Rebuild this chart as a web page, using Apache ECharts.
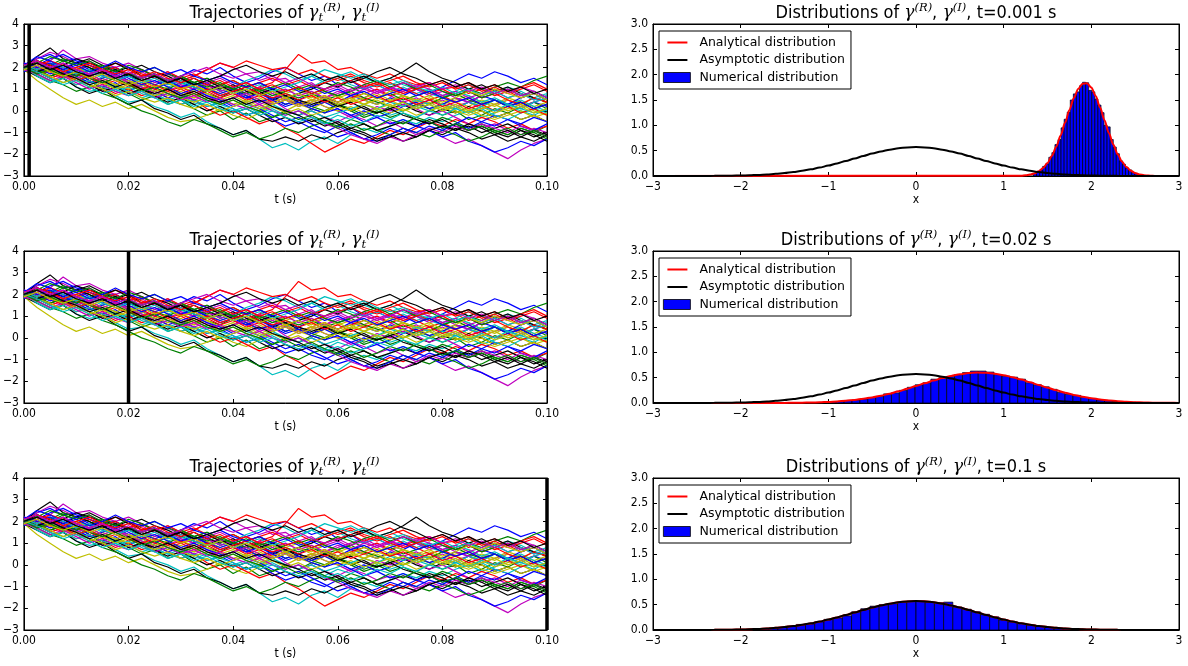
<!DOCTYPE html>
<html><head><meta charset="utf-8">
<script src="https://cdn.jsdelivr.net/npm/echarts@6/dist/echarts.min.js"></script>
<style>html,body{margin:0;padding:0;background:#fff}#c{width:1188px;height:666px}</style>
</head><body><div id="c"></div>
<script>
// ---------------- DATA ----------------
const trajStep = 0.0025; // time between samples (s), 41 samples from 0 to 0.1
const trajColors = ['#0000ff','#008000','#ff0000','#00bfbf','#bf00bf','#bfbf00','#000000'];
const trajectories = [
[2.0,2.4,2.6,2.3,2.4,2.1,1.9,2.0,1.7,1.9,1.6, 1.4,1.5,1.2,1.3,0.9,1.1,0.8,0.9,0.6,0.7, 0.5,0.8,0.6,0.4,0.7,0.5,0.3,0.6,0.4,0.2, 0.5,0.3,0.1,0.4,0.2,0.5,0.3,0.1,0.4,0.2],
[2.1,1.8,1.9,1.5,1.7,1.4,1.0,1.2,0.8,0.5,0.7, 0.3,0.5,0.1,-0.2,0.0,-0.4,-0.1,-0.5,-0.3,0.0, -0.2,0.1,-0.1,0.3,0.0,-0.3,-0.1,0.2,0.0,0.3, 0.1,-0.2,0.0,-0.4,-0.2,0.1,-0.1,0.2,0.4,0.1],
[2.0,2.2,1.9,2.1,1.8,1.6,1.8,1.4,1.2,1.4,1.1, 1.3,1.0,1.2,0.9,1.1,1.0,0.8,1.1,1.3,1.9, 2.6,2.2,2.3,1.9,2.0,1.7,1.5,1.7,1.4,1.2, 1.3,1.0,1.1,0.8,1.0,0.7,0.9,0.6,0.8,0.5],
[1.9,1.7,1.4,1.5,1.1,0.9,1.0,0.7,0.4,0.5,0.2, 0.0,-0.3,-0.1,-0.5,-0.8,-1.1,-0.9,-1.3,-1.7,-1.5, -1.8,-1.4,-1.2,-1.5,-1.1,-0.8,-1.0,-0.7,-0.4,-0.6, -0.3,-0.5,-0.2,0.0,-0.3,-0.1,0.2,0.0,-0.2,0.1],
[2.1,2.4,2.7,2.5,2.2,2.3,1.9,2.0,1.6,1.8,1.5, 1.7,1.4,1.6,1.9,2.2,2.0,1.7,1.8,1.4,1.5, 1.1,1.3,0.9,1.1,0.8,0.6,0.9,0.7,0.4,0.6, 0.3,0.5,0.2,0.4,0.1,0.3,0.5,0.2,0.4,0.6],
[1.9,1.4,1.0,0.6,0.3,0.5,0.2,0.4,0.1,0.3,0.0, -0.3,-0.5,-0.4,-0.2,0.1,-0.2,-0.4,-0.1,0.2,0.0, 0.3,0.1,0.4,0.2,0.5,0.3,0.6,0.4,0.7,0.5, 0.3,0.6,0.4,0.2,0.5,0.3,0.6,0.4,0.2,0.4],
[2.0,2.5,2.9,2.4,2.2,2.4,2.1,1.8,2.0,1.6,1.7, 1.3,1.5,1.1,0.9,1.2,0.8,0.6,0.9,0.5,0.7, 0.4,0.2,0.5,0.3,0.0,0.2,-0.1,0.1,0.3,0.0, -0.2,0.1,-0.1,0.2,0.0,-0.3,-0.1,-0.4,-0.2,-0.5],
[2.2,1.9,2.1,1.7,1.8,1.4,1.1,1.3,0.9,1.2,1.0, 1.3,1.6,1.9,1.7,2.0,1.6,1.3,1.5,1.8,2.0, 1.7,1.4,1.6,1.2,1.4,1.0,1.2,0.9,0.7,1.0, 0.8,1.1,1.4,1.7,1.5,1.8,1.6,1.3,1.5,1.2],
[1.8,2.2,2.0,2.3,2.1,1.8,2.0,1.6,1.3,1.5,1.2, 1.0,1.3,1.1,0.8,0.6,0.9,0.7,0.4,0.6,0.3, 0.5,0.2,0.0,0.3,0.1,-0.2,0.0,-0.3,-0.1,-0.4, -0.6,-0.3,-0.5,-0.8,-0.6,-0.9,-1.1,-0.8,-1.0,-0.7],
[2.0,1.7,1.8,1.5,1.2,1.4,1.1,0.8,1.0,0.7,0.9, 0.6,0.3,0.5,0.1,-0.2,0.0,-0.3,-0.6,-0.4,-0.8, -1.1,-1.5,-1.9,-1.6,-1.3,-1.5,-1.2,-0.9,-1.1,-0.8, -0.5,-0.7,-0.4,-0.6,-0.3,-0.5,-0.8,-0.6,-0.9,-0.7],
[2.0,2.2,1.9,1.7,2.0,1.8,1.5,1.7,1.4,1.2,1.4, 1.1,1.3,1.0,1.2,0.9,1.1,1.4,1.6,1.9,1.7, 1.4,1.6,1.3,1.5,1.2,1.0,1.2,0.9,1.1,0.8, 1.0,0.7,0.9,1.2,1.0,0.8,1.1,0.9,0.6,0.8],
[2.1,1.9,2.3,2.8,2.4,2.5,2.2,2.0,2.2,1.9,1.6, 1.8,1.5,1.3,1.0,1.2,0.8,0.6,0.3,0.5,0.1, -0.2,0.0,-0.3,-0.5,-0.2,-0.4,-0.7,-0.5,-0.8,-1.1, -0.9,-1.2,-1.5,-1.3,-1.6,-1.9,-2.2,-1.8,-1.5,-1.3],
[2.0,1.8,1.6,1.8,1.5,1.3,1.5,1.2,1.0,1.2,0.9, 0.7,0.9,0.6,0.8,0.5,0.7,0.4,0.6,0.3,0.5, 0.8,0.6,0.9,0.7,0.4,0.6,0.8,0.5,0.7,0.4, 0.6,0.3,0.5,0.7,0.4,0.2,0.5,0.3,0.6,0.4],
[1.9,1.6,1.3,1.5,1.1,0.8,1.0,0.6,0.3,0.5,0.1, -0.1,-0.4,-0.2,-0.6,-0.8,-1.1,-0.9,-1.3,-1.4,-1.2, -1.4,-1.1,-1.3,-1.0,-0.8,-1.0,-1.3,-1.1,-1.4,-1.2, -0.9,-1.1,-0.8,-1.0,-1.3,-1.1,-1.4,-1.2,-0.9,-1.1],
[2.2,2.0,1.7,1.9,1.6,1.3,1.5,1.7,1.4,1.1,0.9, 0.6,0.8,0.5,0.2,0.4,0.1,-0.2,0.0,-0.4,-0.7, -0.5,-0.8,-1.0,-0.7,-1.0,-1.3,-1.1,-0.8,-1.0,-0.7, -0.9,-1.2,-1.0,-1.4,-1.6,-1.9,-1.7,-1.4,-1.6,-1.3],
[2.0,2.3,2.1,2.4,2.2,2.0,1.7,1.9,1.6,1.8,2.0, 1.7,1.5,1.3,1.5,1.2,1.4,1.1,1.3,1.0,0.8, 0.6,0.8,0.5,0.7,0.9,0.6,0.4,0.2,0.4,0.1, 0.3,0.6,0.8,1.0,0.8,1.1,1.3,1.1,1.4,1.6],
[2.1,1.9,2.1,1.8,2.0,1.7,1.9,2.2,2.0,1.7,1.5, 1.2,1.4,1.6,1.9,2.2,2.0,2.3,2.1,1.9,2.0, 1.7,1.9,1.6,1.4,1.6,1.3,1.1,1.3,1.0,0.8, 0.5,0.7,0.4,0.6,0.3,0.5,0.2,0.4,0.1,0.3],
[1.9,1.7,1.9,1.6,1.4,1.6,1.3,1.1,0.8,1.0,0.7, 0.5,0.7,0.4,0.6,0.3,0.1,-0.2,0.0,0.3,0.5, 0.8,1.1,1.4,1.6,1.8,1.5,1.3,1.5,1.2,1.0, 0.8,0.6,0.9,0.7,0.4,0.6,0.3,0.5,0.2,0.0],
[2.0,1.8,1.5,1.7,1.4,1.2,0.9,1.1,0.8,1.0,0.7, 0.9,1.2,1.0,1.3,1.5,1.2,0.9,1.1,0.8,0.5, 0.3,0.5,0.2,0.0,-0.3,-0.1,0.2,0.0,0.3,0.1, -0.2,0.0,-0.3,-0.6,-0.8,-0.6,-0.9,-1.1,-0.8,-1.0],
[2.1,2.3,2.0,1.8,2.0,1.7,1.4,1.6,1.3,1.5,1.2, 1.4,1.1,0.9,1.1,0.8,1.0,0.7,0.9,1.1,0.8, 1.0,0.7,0.9,0.6,0.8,0.5,0.3,0.5,0.2,0.4, 0.1,0.3,0.0,-0.2,0.0,-0.3,-0.1,-0.4,-0.2,-0.5],
[2.0,1.7,1.9,2.1,2.4,2.2,2.0,2.2,1.9,2.1,1.8, 1.6,1.3,1.5,1.2,1.0,1.2,0.9,0.7,0.9,0.6, 0.8,1.0,1.3,1.1,1.4,1.6,1.3,1.5,1.8,2.2, 1.8,1.5,1.3,1.0,1.2,0.9,1.1,0.8,0.6,0.4],
[1.8,2.1,2.4,2.6,2.3,2.1,1.8,2.0,1.7,1.5,1.7, 1.4,1.1,1.3,1.0,0.8,1.0,0.7,0.4,0.6,0.3, 0.5,0.2,0.4,0.1,-0.2,0.0,-0.3,-0.1,0.2,0.4, 0.1,0.3,0.6,0.4,0.7,0.5,0.3,0.6,0.8,0.5],
[2.0,1.7,1.4,1.2,0.9,1.1,0.8,0.6,0.3,0.0,-0.2, -0.5,-0.7,-0.4,-0.6,-0.9,-1.2,-1.0,-1.3,-1.1,-0.8, -1.0,-0.7,-0.5,-0.7,-0.4,-0.6,-0.9,-1.1,-0.8,-1.0, -1.2,-0.9,-1.1,-1.4,-1.2,-0.9,-1.1,-0.8,-1.0,-1.3],
[2.2,2.0,1.8,2.0,1.7,1.5,1.2,1.4,1.1,1.3,1.0, 0.8,1.0,0.7,0.9,0.6,0.8,0.5,0.7,0.4,0.6, 0.3,0.5,0.7,0.4,0.6,0.8,1.0,0.7,0.9,1.1, 0.8,1.0,0.7,0.9,0.6,0.8,0.5,0.3,0.6,0.4],
[2.0,1.6,1.3,1.5,1.2,1.4,1.1,0.9,1.1,0.8,0.6, 0.8,0.5,0.3,0.5,0.2,0.0,0.2,-0.1,0.1,-0.2, 0.0,-0.3,-0.5,-0.2,-0.4,-0.1,0.1,-0.2,0.0,0.2, 0.0,0.3,0.1,0.4,0.2,0.5,0.3,0.1,0.4,0.6],
[1.9,2.1,1.9,2.2,1.9,1.7,1.9,1.6,1.4,1.6,1.3, 1.5,1.2,1.0,1.2,0.9,1.1,1.3,1.0,0.8,1.0, 0.7,0.9,0.6,0.8,1.0,1.2,0.9,1.1,0.8,1.0, 0.7,0.9,0.6,0.4,0.7,0.9,0.6,0.8,0.5,0.7],
[2.0,2.2,1.9,1.7,1.5,1.7,1.4,1.2,1.4,1.1,0.9, 1.1,0.8,0.6,0.8,0.5,0.3,0.5,0.2,0.4,0.6, 0.3,0.5,0.2,0.0,0.2,-0.1,0.1,0.3,0.0,0.2, 0.4,0.1,0.3,0.0,0.2,-0.1,0.1,0.3,0.0,-0.2],
[2.1,1.8,1.6,1.8,1.5,1.2,0.9,1.1,0.8,1.0,0.7, 0.4,0.6,0.3,0.0,0.2,-0.1,0.1,-0.2,-0.5,-0.3, -0.6,-0.4,-0.7,-0.5,-0.8,-0.6,-0.9,-0.7,-0.5,-0.7, -0.4,-0.6,-0.9,-0.7,-1.0,-0.8,-0.6,-0.9,-1.2,-1.0],
[2.0,1.8,2.0,1.7,1.9,1.6,1.8,1.5,1.7,1.4,1.2, 1.4,1.1,1.3,1.0,0.7,0.9,0.6,0.8,0.5,0.2, 0.4,0.1,-0.1,0.1,-0.2,-0.5,-0.3,-0.6,-0.4,-0.7, -0.5,-0.8,-0.6,-0.3,-0.5,-0.2,-0.4,-0.7,-0.9,-0.6],
[2.1,1.9,1.6,1.8,1.6,1.9,2.1,1.9,1.7,1.5,1.7, 1.4,1.6,1.3,1.1,1.3,1.0,0.8,1.0,0.7,0.9, 1.1,0.8,1.0,1.3,1.1,0.8,0.6,0.8,0.5,0.7, 0.9,0.6,0.8,0.5,0.3,0.5,0.2,0.4,0.1,0.3],
[1.9,2.1,2.3,2.1,1.9,2.1,1.8,2.0,1.7,1.9,1.6, 1.8,1.5,1.7,1.4,1.2,1.4,1.1,1.3,1.5,1.2, 1.4,1.1,1.3,1.5,1.7,1.4,1.2,1.4,1.6,1.3, 1.1,1.3,1.0,1.2,0.9,1.1,0.8,1.0,1.2,0.9],
[2.0,1.8,1.5,1.3,1.5,1.2,1.4,1.1,0.9,0.6,0.8, 0.5,0.3,0.5,0.2,0.4,0.6,0.3,0.1,0.3,0.0, -0.2,0.0,-0.3,-0.1,0.1,0.3,0.1,0.4,0.2,0.5, 0.3,0.0,0.2,-0.1,0.1,-0.2,-0.4,-0.1,0.1,-0.1],
[2.0,2.2,2.0,1.8,1.5,1.7,1.4,1.6,1.3,1.1,0.8, 1.0,0.7,0.5,0.7,0.4,0.6,0.8,0.5,0.3,0.5, 0.2,0.4,0.6,0.9,0.7,1.0,0.8,1.1,0.9,1.2, 1.0,0.7,0.9,0.6,0.8,1.0,0.8,1.1,0.9,0.6],
[1.9,1.7,1.9,1.6,1.4,1.1,1.3,1.0,1.2,0.9,0.7, 0.9,0.6,0.4,0.6,0.3,0.5,0.2,0.0,0.2,-0.1, 0.1,-0.2,0.0,0.2,0.0,0.3,0.1,-0.1,0.1,-0.2, 0.0,0.2,-0.1,0.1,-0.2,-0.4,-0.2,0.0,-0.3,-0.1],
[2.0,2.3,2.1,1.9,2.2,2.0,1.7,1.9,1.6,1.4,1.6, 1.3,1.5,1.2,1.4,1.1,0.9,1.1,0.8,1.0,0.7, 0.5,0.3,0.5,0.2,0.4,0.1,-0.1,0.1,-0.2,-0.4, -0.6,-0.4,-0.7,-0.9,-0.7,-1.0,-1.2,-0.9,-1.1,-1.4],
[2.1,2.5,2.3,2.0,2.2,1.9,1.6,1.8,1.5,1.2,1.4, 1.1,0.8,1.0,0.7,0.5,0.2,0.4,0.1,-0.2,-0.5, -0.3,-0.6,-0.9,-1.2,-1.0,-1.3,-1.4,-1.1,-0.8,-1.0, -0.7,-0.9,-0.6,-0.8,-0.5,-0.7,-0.4,-0.6,-0.3,-0.5],
[1.9,2.2,2.5,2.3,2.1,2.3,2.0,1.8,2.1,1.9,1.6, 1.4,1.6,1.3,1.5,1.2,1.0,1.2,0.9,1.1,1.3, 1.0,1.2,0.9,0.7,0.9,1.2,1.4,1.1,1.3,1.0, 1.2,0.9,0.7,0.9,0.6,0.8,1.0,0.7,0.9,0.6],
[2.0,1.8,1.5,1.7,1.4,1.6,1.3,1.5,1.2,1.0,1.2, 0.9,1.1,0.8,1.0,0.7,0.9,1.1,0.8,0.6,0.8, 0.5,0.7,0.4,0.6,0.3,0.5,0.7,0.4,0.6,0.3, 0.5,0.2,0.4,0.1,0.3,0.0,0.2,-0.1,0.1,-0.2],
[2.1,1.9,2.2,2.0,1.7,1.9,1.6,1.4,1.6,1.3,1.5, 1.2,1.4,1.1,0.9,1.1,0.8,1.0,1.2,0.9,1.1, 1.3,1.6,1.9,1.7,1.5,1.7,1.4,1.2,1.4,1.1, 0.9,1.1,0.8,1.0,0.7,0.9,0.6,0.8,0.5,0.7],
[1.9,1.7,1.4,1.6,1.3,1.0,1.2,0.9,0.7,0.9,0.6, 0.8,0.5,0.7,0.4,0.6,0.3,0.1,0.3,0.0,-0.2, 0.0,-0.3,-0.6,-0.8,-1.1,-1.3,-1.5,-1.2,-1.4,-1.1, -0.8,-1.0,-0.7,-0.9,-0.6,-0.8,-1.0,-0.7,-0.9,-1.2],
[2.0,1.8,1.6,1.3,1.5,1.2,1.0,0.7,0.9,0.6,0.4, 0.6,0.3,0.1,0.3,0.0,0.2,0.4,0.1,0.3,0.5, 0.2,0.4,0.6,0.3,0.5,0.8,0.6,0.9,0.7,0.5, 0.7,0.4,0.6,0.9,0.7,1.0,0.8,0.6,0.8,0.5],
[2.0,1.8,2.0,1.7,1.5,1.2,1.4,1.1,1.3,1.0,0.8, 1.0,0.7,0.9,0.6,0.4,0.6,0.3,0.5,0.2,0.0, -0.2,-0.5,-0.3,-0.6,-0.9,-1.1,-1.4,-1.2,-1.0,-1.2, -0.9,-0.7,-0.9,-0.6,-0.8,-1.1,-0.9,-1.2,-1.4,-1.1],
[2.2,2.0,2.2,1.9,2.1,1.8,2.0,2.3,2.0,1.8,2.0, 1.7,1.9,1.6,1.4,1.6,1.3,1.1,1.3,1.0,1.2, 0.9,1.1,0.8,1.0,0.7,0.9,0.6,0.8,1.0,0.7, 0.9,0.6,0.4,0.6,0.3,0.5,0.2,0.4,0.1,0.3],
[2.0,1.7,1.9,1.6,1.8,1.5,1.3,1.5,1.2,0.9,1.1, 0.8,0.6,0.8,0.5,0.3,0.5,0.2,0.0,-0.3,-0.1, -0.4,-0.2,-0.5,-0.8,-0.6,-0.9,-0.7,-0.4,-0.6,-0.3, -0.5,-0.8,-0.6,-0.9,-0.7,-1.0,-0.8,-1.1,-0.9,-1.2],
[2.1,2.3,2.1,1.8,2.0,2.2,1.9,1.7,1.9,1.6,1.8, 1.5,1.3,1.5,1.2,1.4,1.1,1.3,1.0,1.2,0.9, 1.1,0.8,1.0,1.2,1.4,1.1,1.3,1.0,0.8,1.0, 1.2,1.4,1.1,1.3,1.0,1.2,0.9,1.1,1.3,1.0],
[2.0,1.8,1.5,1.2,1.4,1.1,0.8,1.0,0.7,0.9,0.6, 0.3,0.5,0.2,0.4,0.1,-0.1,0.1,-0.2,0.0,-0.3, -0.5,-0.3,-0.6,-0.4,-0.7,-0.5,-0.2,-0.4,-0.1,-0.3, 0.0,-0.2,0.1,-0.1,0.2,0.0,0.3,0.1,-0.1,0.1],
[2.1,2.3,2.0,2.2,1.9,1.7,1.9,1.6,1.8,1.5,1.7, 1.4,1.6,1.8,2.0,1.7,1.5,1.7,1.4,1.6,1.3, 1.5,1.2,1.0,1.2,0.9,1.1,0.8,1.0,1.3,1.1, 1.3,1.0,1.2,0.9,1.1,0.8,1.0,0.7,0.9,0.6],
[1.9,2.1,1.8,1.6,1.8,1.5,1.7,1.4,1.2,1.4,1.1, 1.3,1.0,1.2,0.9,1.1,0.8,1.0,0.7,0.9,0.6, 0.8,0.5,0.7,0.4,0.6,0.3,0.5,0.2,0.4,0.1, 0.3,0.0,0.2,-0.1,0.1,0.3,0.0,0.2,-0.1,0.1],
[2.0,2.2,1.9,2.1,1.8,1.6,1.8,1.5,1.7,1.4,1.6, 1.3,1.5,1.2,1.4,1.6,1.9,2.1,1.8,1.6,1.8, 1.5,1.7,1.4,1.6,1.3,1.5,1.8,2.0,1.7,1.5, 1.2,1.4,1.1,1.3,1.0,1.2,0.9,1.1,0.8,1.0]
];
const markerTimes = [0.001, 0.02, 0.1];
const markerLabels = ['0.001', '0.02', '0.1'];

// histograms (numerical distribution): first bin edge, bin width, bar heights
const histTopStart = 1.34, histTopWidth = 0.035;
const histTopHeights = [0.05,0.09,0.12,0.19,0.24,0.37,0.46,0.62,0.72,0.95,1.12,1.26,1.50,1.62,1.66,1.78,1.85,1.84,1.69,1.66,1.52,1.40,1.25,1.00,0.97,0.72,0.57,0.44,0.30,0.23,0.16,0.12,0.07,0.05,0.03,0.02];
const histMidStart = -1.0, histMidWidth = 0.09;
const histMidHeights = [0.02,0.03,0.05,0.06,0.08,0.11,0.13,0.18,0.20,0.25,0.31,0.36,0.40,0.47,0.50,0.52,0.56,0.60,0.63,0.63,0.61,0.56,0.53,0.51,0.47,0.40,0.36,0.32,0.27,0.21,0.17,0.15,0.11,0.09,0.06,0.05,0.03,0.02,0.015,0.01];
const histBotStart = -2.1, histBotWidth = 0.105;
const histBotHeights = [0.006,0.01,0.02,0.025,0.04,0.05,0.075,0.11,0.12,0.16,0.21,0.24,0.28,0.36,0.42,0.47,0.50,0.52,0.55,0.57,0.57,0.55,0.54,0.55,0.45,0.41,0.36,0.31,0.26,0.20,0.16,0.13,0.10,0.07,0.05,0.035,0.025,0.018,0.012,0.008];

// curves sampled at x = -3.0, -2.9, ..., 3.0
const asymptoticY = [0.0001,0.0001,0.0002,0.0003,0.0006,0.001,0.0016,0.0026,0.0041,0.0063,0.0096,0.014,0.021,0.030,0.042,0.057,0.077,0.102,0.131,0.166,0.205,0.249,0.297,0.346,0.395,0.442,0.484,0.520,0.547,0.564,0.570,0.564,0.547,0.520,0.484,0.442,0.395,0.346,0.297,0.249,0.205,0.166,0.131,0.102,0.077,0.057,0.042,0.030,0.021,0.014,0.0096,0.0063,0.0041,0.0026,0.0016,0.001,0.0006,0.0003,0.0002,0.0001,0.0001];
const analyticMidY = [0,0,0,0,0,0,0,0,0,0.0001,0.0001,0.0003,0.0005,0.0008,0.0014,0.0023,0.0037,0.0059,0.0093,0.0142,0.0211,0.0308,0.044,0.061,0.084,0.111,0.145,0.185,0.230,0.280,0.334,0.388,0.442,0.491,0.535,0.568,0.590,0.600,0.596,0.578,0.549,0.510,0.462,0.410,0.356,0.301,0.250,0.203,0.160,0.124,0.094,0.070,0.050,0.036,0.025,0.017,0.011,0.007,0.0045,0.0028,0.0017];
const analyticBotY = [0.0001,0.0001,0.0002,0.0003,0.0006,0.001,0.0016,0.0026,0.0041,0.0063,0.0096,0.014,0.021,0.030,0.042,0.057,0.077,0.101,0.130,0.165,0.204,0.248,0.296,0.345,0.394,0.441,0.483,0.519,0.547,0.564,0.570,0.565,0.548,0.521,0.485,0.443,0.396,0.347,0.298,0.250,0.206,0.167,0.132,0.103,0.078,0.058,0.042,0.030,0.021,0.014,0.0097,0.0064,0.0042,0.0027,0.0016,0.001,0.0006,0.0003,0.0002,0.0001,0.0001];
// narrow analytical curve at t=0.001, sampled at x = 1.20, 1.25, ..., 2.70 (zero elsewhere)
const analyticTopY = [0.0064,0.0136,0.0272,0.0518,0.0933,0.159,0.258,0.397,0.579,0.801,1.049,1.305,1.538,1.719,1.822,1.832,1.747,1.579,1.354,1.101,0.849,0.620,0.430,0.283,0.176,0.104,0.0585,0.031,0.0157,0.0075,0.0034];

const legendNames = ['Analytical distribution', 'Asymptotic distribution', 'Numerical distribution'];

// ---------------- CHART ----------------
const FONT = 'DejaVu Sans';
const TFONT = '"DejaVu Sans Condensed", "DejaVu Sans"';
const chart = echarts.init(document.getElementById('c'));
const neg = v => (v < 0 ? '\u2212' : '') + Math.abs(v);
const curveX = Array.from({length: 61}, (_, i) => +(-3 + i * 0.1).toFixed(1));
const topX = Array.from({length: analyticTopY.length}, (_, i) => +(1.2 + i * 0.05).toFixed(2));
const trajT = Array.from({length: 41}, (_, i) => +(i * trajStep).toFixed(4));

const option = {animation: false, backgroundColor: '#fff', grid: [], xAxis: [], yAxis: [], series: [], legend: [], graphic: []};

function axis(g, pos, r, labels) {
  return {
    type: 'value', gridIndex: g, position: pos, min: r.min, max: r.max, interval: r.interval,
    axisLine: {show: true, onZero: false, lineStyle: {color: '#000', width: 1}},
    axisTick: {show: true, inside: true, length: 4, lineStyle: {color: '#000', width: 1}},
    axisLabel: {show: labels, formatter: r.fmt, color: '#000', fontFamily: TFONT, fontSize: 12, margin: 5},
    splitLine: {show: false},
    name: (labels && pos === 'bottom') ? r.name : '', nameLocation: 'middle', nameGap: 18,
    nameTextStyle: {color: '#000', fontFamily: TFONT, fontSize: 12},
    silent: true
  };
}

function renderBar(params, api) {
  const a = api.coord([api.value(0), api.value(2)]);
  const b = api.coord([api.value(1), 0]);
  return {type: 'rect', shape: {x: a[0], y: a[1], width: b[0] - a[0], height: b[1] - a[1]},
          style: {fill: '#0000ff', stroke: '#000', lineWidth: 0.7}};
}

const titleRich = {
  g: {fontFamily: 'DejaVu Serif', fontStyle: 'italic', fontSize: 17, lineHeight: 22, fill: '#000'},
  p: {fontFamily: 'DejaVu Serif', fontStyle: 'italic', fontSize: 11.5, lineHeight: 13, verticalAlign: 'top', fill: '#000'},
  s: {fontFamily: 'DejaVu Serif', fontStyle: 'italic', fontSize: 11.5, lineHeight: 12, verticalAlign: 'bottom', fill: '#000'}
};
const colLeft = [22, 653], colWidth = [525, 526];
const rowTop = [24, 251, 478], rowH = 152;
const lineIcon = 'path://M0,0 M4,4 L24,4 L24,6 L4,6 Z M31,10';
const rectIcon = 'path://M0,0 L27,0 L27,10 L0,10 Z M31,10';

const hists = [
  {start: histTopStart, w: histTopWidth, h: histTopHeights},
  {start: histMidStart, w: histMidWidth, h: histMidHeights},
  {start: histBotStart, w: histBotWidth, h: histBotHeights}
];
const analytic = [
  [[-3, 0]].concat(topX.map((x, i) => [x, analyticTopY[i]])).concat([[2.75, 0], [3, 0]]),
  curveX.map((x, i) => [x, analyticMidY[i]]),
  curveX.map((x, i) => [x, analyticBotY[i]])
];
const asymptotic = curveX.map((x, i) => [x, asymptoticY[i]]);

for (let r = 0; r < 3; r++) {
  for (let c = 0; c < 2; c++) {
    const g = option.grid.length;
    option.grid.push({left: colLeft[c], top: rowTop[r], width: colWidth[c], height: rowH, show: true, borderColor: '#000', borderWidth: 1, backgroundColor: 'transparent'});
    const isTraj = c === 0;
    const xr = isTraj ? {min: 0, max: 0.1, interval: 0.02, fmt: v => v.toFixed(2), name: 't (s)'}
                      : {min: -3, max: 3, interval: 1, fmt: neg, name: 'x'};
    const yr = isTraj ? {min: -3, max: 4, interval: 1, fmt: neg}
                      : {min: 0, max: 3, interval: 0.5, fmt: v => v.toFixed(1)};
    option.xAxis.push(axis(g, 'bottom', xr, true), axis(g, 'top', xr, false));
    option.yAxis.push(axis(g, 'left', yr, true), axis(g, 'right', yr, false));
    const xi = 2 * g, yi = 2 * g;
    const cx = colLeft[c] + colWidth[c] / 2;
    if (isTraj) {
      trajectories.forEach((tr, i) => {
        option.series.push({type: 'line', xAxisIndex: xi, yAxisIndex: yi, silent: true,
          data: tr.map((v, k) => [trajT[k], v]), symbol: 'none', showSymbol: false,
          lineStyle: {color: trajColors[i % 7], width: 1.2}, itemStyle: {color: trajColors[i % 7]}, z: 2});
      });
      option.series.push({type: 'line', xAxisIndex: xi, yAxisIndex: yi, silent: true, clip: false,
        data: [[markerTimes[r], yr.min], [markerTimes[r], yr.max]], symbol: 'none',
        lineStyle: {color: '#000', width: 3.5}, z: 10});
      option.graphic.push({type: 'text', x: cx, y: rowTop[r] - 11, silent: true,
        style: {text: 'Trajectories of {g|\u03b3}{s|t}{p|(R)},{g| \u03b3}{s|t}{p|(I)}', rich: titleRich,
          fontFamily: TFONT, fontSize: 18, lineHeight: 22, fill: '#000', align: 'center', verticalAlign: 'middle'}});
    } else {
      const hs = hists[r];
      option.series.push({type: 'custom', name: legendNames[2], xAxisIndex: xi, yAxisIndex: yi, silent: true,
        renderItem: renderBar, encode: {x: [0, 1], y: 2},
        itemStyle: {color: '#0000ff', borderColor: '#000'},
        data: hs.h.map((h, i) => [hs.start + i * hs.w, hs.start + (i + 1) * hs.w, h]), z: 2});
      option.series.push({type: 'line', name: legendNames[0], xAxisIndex: xi, yAxisIndex: yi, silent: true,
        data: analytic[r], symbol: 'none', showSymbol: false, smooth: 0.3, smoothMonotone: 'x',
        lineStyle: {color: '#ff0000', width: 2}, itemStyle: {color: '#ff0000'}, z: 3});
      option.series.push({type: 'line', name: legendNames[1], xAxisIndex: xi, yAxisIndex: yi, silent: true,
        data: asymptotic, symbol: 'none', showSymbol: false, smooth: 0.3, smoothMonotone: 'x',
        lineStyle: {color: '#000', width: 2}, itemStyle: {color: '#000'}, z: 4});
      option.legend.push({orient: 'vertical', left: 659, top: rowTop[r] + 7, itemWidth: 31, itemHeight: 10, itemGap: 4.5,
        padding: [5, 6, 5, 4], borderColor: '#000', borderWidth: 1, borderRadius: 0, backgroundColor: '#fff',
        selectedMode: false, z: 20,
        textStyle: {fontFamily: FONT, fontSize: 12.5, color: '#000'},
        data: [
          {name: legendNames[0], icon: lineIcon, itemStyle: {color: '#ff0000', borderWidth: 0}},
          {name: legendNames[1], icon: lineIcon, itemStyle: {color: '#000000', borderWidth: 0}},
          {name: legendNames[2], icon: rectIcon, itemStyle: {color: '#0000ff', borderColor: '#000', borderWidth: 0.8}}
        ]});
      option.graphic.push({type: 'text', x: cx, y: rowTop[r] - 11, silent: true,
        style: {text: 'Distributions of {g|\u03b3}{p|(R)},{g| \u03b3}{p|(I)}, t=' + markerLabels[r] + ' s', rich: titleRich,
          fontFamily: TFONT, fontSize: 18, lineHeight: 22, fill: '#000', align: 'center', verticalAlign: 'middle'}});
    }
  }
}
chart.setOption(option);
</script>
</body></html>
